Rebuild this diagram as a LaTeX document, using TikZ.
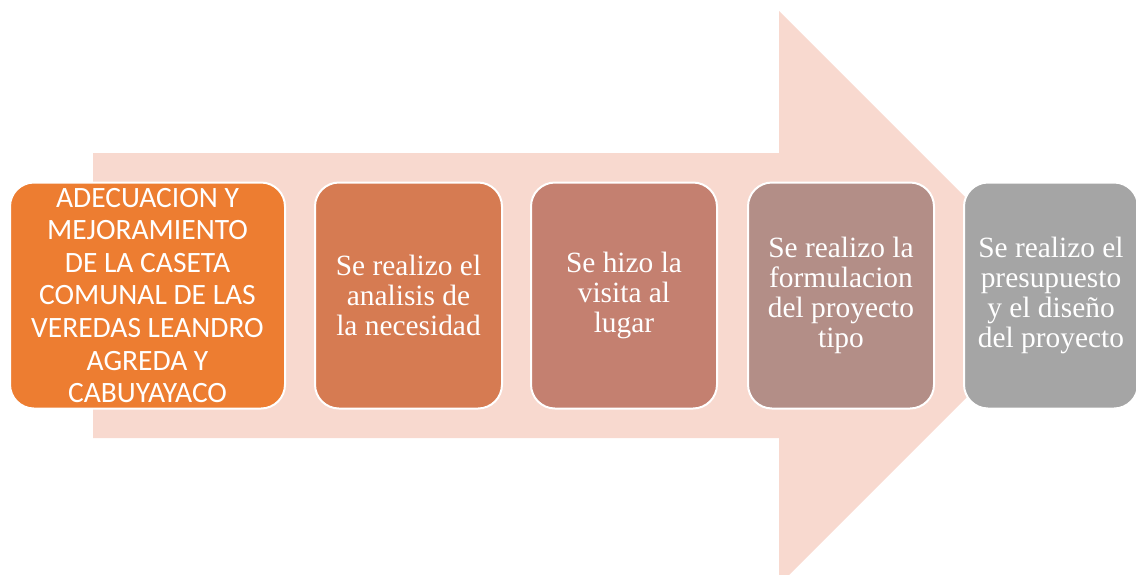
\documentclass[tikz,border=0pt]{standalone}
\usepackage{fontspec}
\setmainfont{Liberation Serif}
\newfontfamily\calibrifont{Carlito}
\definecolor{arrowc}{HTML}{F8D9CF}
\definecolor{boxa}{HTML}{ED7D31}
\definecolor{boxb}{HTML}{D67B52}
\definecolor{boxc}{HTML}{C48070}
\definecolor{boxd}{HTML}{B38E87}
\definecolor{boxe}{HTML}{A5A5A5}
\tikzset{
  stepbox/.style={draw=white, line width=2pt, rounded corners=24pt, inner sep=0pt,
    minimum height=226pt, align=center, text=white,
    font=\fontsize{29.4}{30}\selectfont},
}
\begin{document}
\begin{tikzpicture}[x=1pt,y=-1pt]
\useasboundingbox (0,0) rectangle (1136,574);
\clip (0,0) rectangle (1136,574);
\fill[arrowc] (93,153) -- (779,153) -- (779,11) -- (1066,298) -- (779,585) -- (779,438) -- (93,438) -- cycle;
\node[stepbox, fill=boxa, minimum width=275pt, font=\calibrifont\fontsize{29.5}{32.6}\selectfont] (s1) at (147.5,295.5)
  {ADECUACION Y\\MEJORAMIENTO\\DE LA CASETA\\COMUNAL DE LAS\\VEREDAS LEANDRO\\AGREDA Y\\CABUYAYACO};
\node[stepbox, fill=boxb, minimum width=187pt] (s2) at (408.5,295.5)
  {Se realizo el\\analisis de\\la necesidad};
\node[stepbox, fill=boxc, minimum width=186pt] (s3) at (624,295.5)
  {Se hizo la\\visita al\\lugar};
\node[stepbox, fill=boxd, minimum width=186pt] (s4) at (841,295.5)
  {Se realizo la\\formulacion\\del proyecto\\tipo};
\node[stepbox, fill=boxe, minimum width=174pt] (s5) at (1051,295.5)
  {Se realizo el\\presupuesto\\y el diseño\\del proyecto};
\end{tikzpicture}
\end{document}
